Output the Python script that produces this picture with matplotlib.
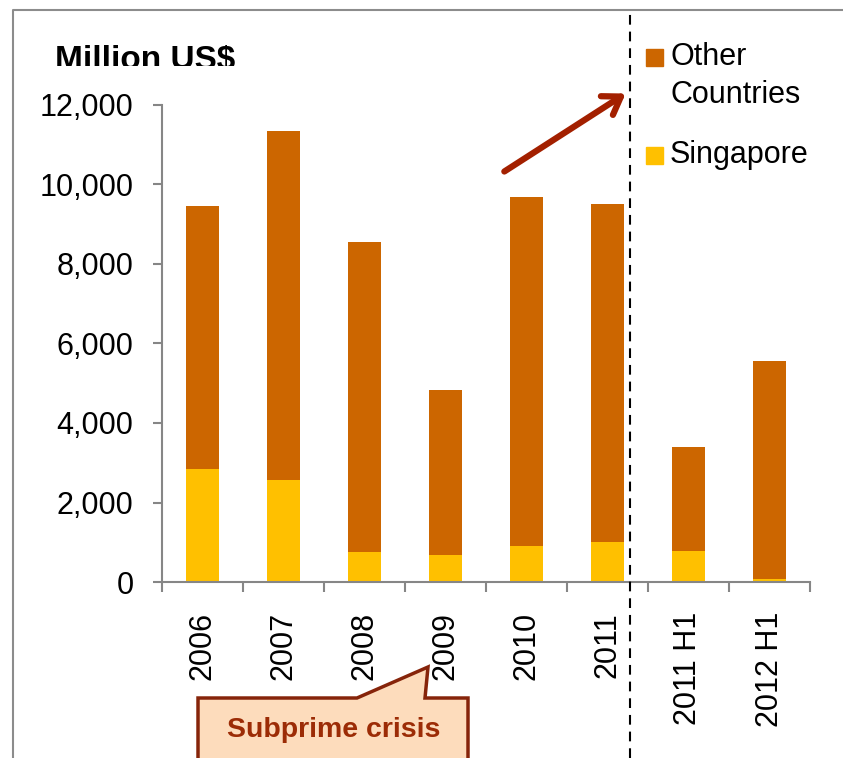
import matplotlib.pyplot as plt
import matplotlib as mpl
from matplotlib.patches import Rectangle, Polygon, FancyArrowPatch
from matplotlib.lines import Line2D
from matplotlib.transforms import Bbox
import numpy as np

# -- Data (million US$) --
categories = ["2006", "2007", "2008", "2009", "2010", "2011", "2011 H1", "2012 H1"]
singapore = [2850, 2570, 760, 690, 910, 1010, 780, 80]
other_total = [9450, 11350, 8550, 4830, 9690, 9510, 3400, 5550]
other = [t - s for t, s in zip(other_total, singapore)]
series_names = ["Other Countries", "Singapore"]

C_OTHER = "#CC6600"
C_SING = "#FFC000"
C_GRAY = "#868686"
C_RED = "#A32000"

mpl.rcParams.update({"font.family": "Liberation Sans", "lines.scale_dashes": False})

W, H = 843, 758
fig = plt.figure(figsize=(W / 100, H / 100), dpi=100)


def px(x, y):
    return x / W, 1 - y / H


ax = fig.add_axes([162 / W, 1 - 582 / H, (810 - 162) / W, (582 - 105) / H])
x = np.arange(len(categories))
ax.bar(x, singapore, width=0.4, color=C_SING, zorder=2)
ax.bar(x, other, width=0.4, bottom=singapore, color=C_OTHER, zorder=2)

ax.set_xlim(-0.5, len(categories) - 0.5)
ax.set_ylim(0, 12000)
ax.set_yticks(range(0, 12001, 2000))
ax.set_yticklabels([f"{v:,}" for v in range(0, 12001, 2000)], fontsize=22)
ax.set_xticks(x)
ax.set_xticklabels(categories, rotation=90, fontsize=22)
ax.set_xticks(np.arange(-0.5, len(categories)), minor=True)
ax.tick_params(axis="x", which="major", length=0, pad=21.5)
ax.tick_params(axis="x", which="minor", length=7, width=1.5, color=C_GRAY)
ax.tick_params(axis="y", length=6.5, width=1.5, color=C_GRAY, pad=14)
for s in ["top", "right"]:
    ax.spines[s].set_visible(False)
for s in ["left", "bottom"]:
    ax.spines[s].set_color(C_GRAY)
    ax.spines[s].set_linewidth(1.5)

# outer chart frame
fig.add_artist(Line2D([13 / W, 13 / W, 1.0], [0, 1 - 10 / H, 1 - 10 / H],
                      color="#8c8c8c", lw=1.5, transform=fig.transFigure))

# title, cut at the bottom like the original
t = fig.text(*px(55, 69), "Million US$", fontsize=24, fontweight="bold",
             va="baseline", ha="left")
t.set_clip_box(Bbox([[0, H - 66], [W, H]]))
t.set_clip_on(True)

# dashed separator
fig.add_artist(Line2D([630 / W, 630 / W], [0, 1 - 10 / H], color="black",
                      lw=1.5, dashes=(7, 5), transform=fig.transFigure))

# legend
first, second = series_names[0].split(" ", 1)
fig.add_artist(Rectangle(px(646, 66), 17 / W, 17 / H, color=C_OTHER,
                         transform=fig.transFigure))
fig.add_artist(Rectangle(px(646, 164), 17 / W, 17 / H, color=C_SING,
                         transform=fig.transFigure))
fig.text(*px(670, 57), first, fontsize=22, va="center", ha="left")
fig.text(*px(670, 95), second, fontsize=22, va="center", ha="left")
fig.text(*px(670, 155), series_names[1], fontsize=22, va="center", ha="left")

# arrow
fig.add_artist(FancyArrowPatch(
    px(502, 173), px(628, 92), transform=fig.transFigure,
    arrowstyle="->,head_length=0.6,head_width=0.4", color=C_RED, lw=4.5,
    mutation_scale=20))

# callout
callout = [px(198, 698), px(357, 698), px(428, 667), px(425, 698),
           px(468, 698), px(468, 800), px(198, 800)]
fig.add_artist(Polygon(callout, closed=True, facecolor="#FDDCBC",
                       edgecolor="#86240A", lw=2.5, transform=fig.transFigure,
                       clip_on=False))
fig.text(*px(334, 730), "Subprime crisis", fontsize=20.5, fontweight="bold",
         color="#9C2C06", ha="center", va="center")

fig.savefig("out.png", dpi=100)
